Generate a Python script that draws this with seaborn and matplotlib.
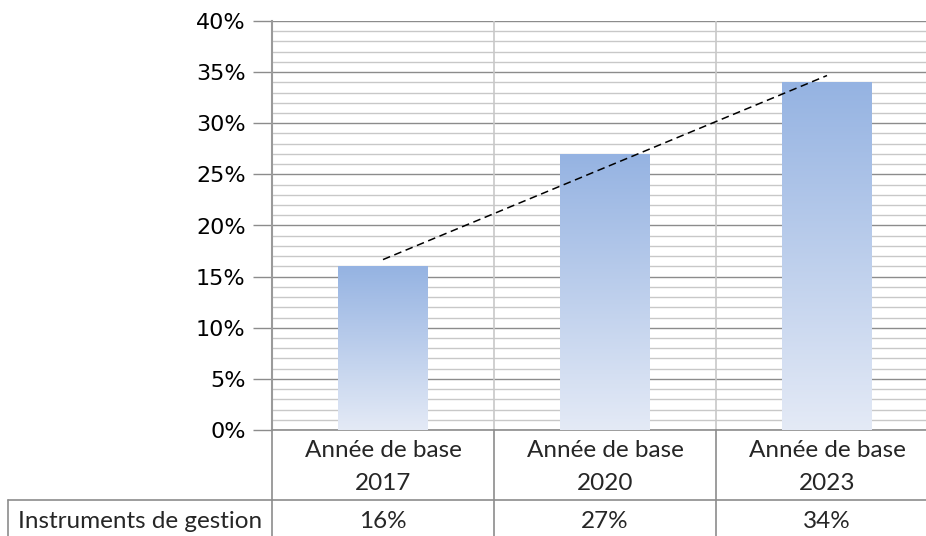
import numpy as np
import pandas as pd
import matplotlib as mpl
import matplotlib.pyplot as plt
import seaborn as sns
from matplotlib.colors import LinearSegmentedColormap

sns.set_theme(style="white")
plt.rcParams['font.family'] = ['Lato', 'DejaVu Sans']

categories = ["Année de base\n2017", "Année de base\n2020", "Année de base\n2023"]
values = [16, 27, 34]
row_label = "Instruments de gestion"
cell_labels = ["16%", "27%", "34%"]

df = pd.DataFrame({"cat": categories, "val": values})

fig = plt.figure(figsize=(9.26, 5.36), dpi=100)
ax = fig.add_axes([272 / 926, 106 / 536, 666 / 926, 409 / 536])

sns.barplot(data=df, x="cat", y="val", ax=ax, width=0.405, color="#a8bfe6",
            edgecolor="none", zorder=3)

# gradient fill inside each bar
cmap = LinearSegmentedColormap.from_list("grad", ["#e4eaf6", "#95b3e2"])
grad = np.linspace(0, 1, 256).reshape(-1, 1)
for p in ax.patches:
    x0, w, h = p.get_x(), p.get_width(), p.get_height()
    p.set_facecolor("none")
    im = ax.imshow(grad, cmap=cmap, origin="lower", aspect="auto",
                   extent=[x0, x0 + w, 0, h], zorder=3)
    im.set_clip_path(p)

# trend line
xs = np.arange(len(values))
slope, icpt = np.polyfit(xs, values, 1)
ax.plot(xs, slope * xs + icpt, color="black", lw=1.1, ls=(0, (5, 3)), zorder=4)

ax.set_xlim(-0.5, len(values) - 0.5)
ax.set_ylim(0, 40)
ax.set_yticks(np.arange(0, 41, 5))
ax.set_yticks(np.arange(0, 41, 1), minor=True)
ax.set_yticklabels([f"{v}%" for v in range(0, 41, 5)], fontsize=16,
                   family=['DejaVu Sans'])
ax.grid(which="major", axis="y", color="#8c8c8c", lw=1.0, zorder=1)
ax.grid(which="minor", axis="y", color="#c8c8c8", lw=1.0, zorder=1)
for b in np.arange(0.5, len(values) - 0.5, 1):
    ax.axvline(b, color="#c8c8c8", lw=1.2, zorder=1)

ax.set_xticks([])
ax.set_xlabel("")
ax.set_ylabel("")
ax.tick_params(axis="y", which="major", left=True, length=14, width=1,
               color="#8c8c8c", pad=5, labelcolor="black")
ax.tick_params(axis="y", which="minor", left=False)
for s in ["top", "right"]:
    ax.spines[s].set_visible(False)
ax.spines["left"].set_color("#9a9a9a")
ax.spines["left"].set_linewidth(1.5)
ax.spines["bottom"].set_color("#8c8c8c")
ax.spines["bottom"].set_linewidth(1.2)

# data table below the axis
trans = ax.get_xaxis_transform()
y_row1 = -70 / 409
y_row2 = -106 / 409
for i, (c, t) in enumerate(zip(categories, cell_labels)):
    ax.text(i, -37 / 409, c, transform=trans, ha="center", va="center",
            fontsize=17.5, linespacing=1.75, clip_on=False)
    ax.text(i, -92 / 409, t, transform=trans, ha="center", va="center",
            fontsize=17.5, clip_on=False)
for b in np.arange(-0.5, len(values) + 0.5, 1):
    ax.plot([b, b], [0, y_row2 - 0.05], transform=trans, color="#8c8c8c",
            lw=1.2, clip_on=False)
ax.plot([-0.5, len(values) - 0.5], [y_row1, y_row1], transform=trans,
        color="#8c8c8c", lw=1.2, clip_on=False)

# row header box
x_left = -0.5 - 264 / 222
ax.plot([x_left, -0.5], [y_row1, y_row1], transform=trans, color="#8c8c8c",
        lw=1.2, clip_on=False)
ax.plot([x_left, x_left], [y_row1, y_row2 - 0.05], transform=trans,
        color="#8c8c8c", lw=1.2, clip_on=False)
ax.text((x_left - 0.5) / 2, -92 / 409, row_label, transform=trans,
        ha="center", va="center", fontsize=17.5, clip_on=False)

fig.savefig("out.png", dpi=100)
